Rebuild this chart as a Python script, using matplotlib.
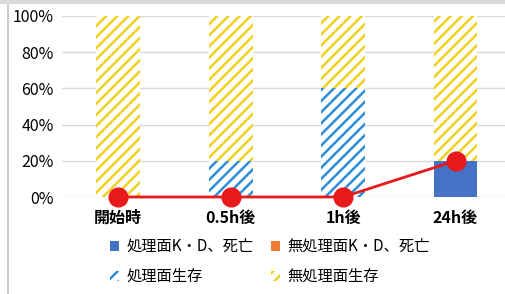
import matplotlib
matplotlib.use("Agg")
import matplotlib.pyplot as plt
from matplotlib.lines import Line2D
import numpy as np

plt.rcParams["font.family"] = ["Noto Sans CJK JP", "DejaVu Sans"]
plt.rcParams["hatch.linewidth"] = 1.8

categories = ["開始時", "0.5h後", "1h後", "24h後"]
treated_kd = [0, 0, 0, 20]
untreated_kd = [0, 0, 0, 0]
treated_alive = [0, 20, 60, 0]
untreated_alive = [100, 80, 40, 80]
kd_rate = [0, 0, 0, 20]

BLUE_SOLID = "#4472C4"
ORANGE = "#ED7D31"
BLUE_HATCH = "#2D8FDB"
YELLOW_HATCH = "#F0D020"
RED = "#E8191B"

fig = plt.figure(figsize=(5.05, 2.94), dpi=100)
ax = fig.add_axes([62 / 505, 1 - 197 / 294, 1 - 62 / 505, (197 - 16) / 294])

x = np.arange(len(categories))
w = 0.39
bottom = np.zeros(len(categories))

b1 = ax.bar(x, treated_kd, w, bottom=bottom, color=BLUE_SOLID, linewidth=0,
            label="処理面K・D、死亡", zorder=2)
bottom += treated_kd
b2 = ax.bar(x, untreated_kd, w, bottom=bottom, color=ORANGE, linewidth=0,
            label="無処理面K・D、死亡", zorder=2)
bottom += untreated_kd
b3 = ax.bar(x, treated_alive, w, bottom=bottom, facecolor="white",
            edgecolor=BLUE_HATCH, hatch="///", linewidth=0,
            label="処理面生存", zorder=2)
bottom += treated_alive
b4 = ax.bar(x, untreated_alive, w, bottom=bottom, facecolor="white",
            edgecolor=YELLOW_HATCH, hatch="///", linewidth=0,
            label="無処理面生存", zorder=2)

ax.plot(x, kd_rate, color=RED, lw=2, marker="o", markersize=13.5,
        clip_on=False, zorder=5)

ax.set_xlim(-0.5, 3.44)
ax.set_ylim(0, 100)
ax.set_yticks(range(0, 101, 20))
ax.set_yticklabels([f"{v}%" for v in range(0, 101, 20)], fontsize=11.5)
ax.set_xticks(x)
ax.set_xticklabels(categories, fontsize=11.5, fontweight="bold")
ax.tick_params(length=0, pad=6)
ax.tick_params(axis="x", pad=9)
ax.grid(True, axis="y", color="#D9D9D9", lw=1, zorder=0)
ax.set_axisbelow(True)
for s in ax.spines.values():
    s.set_visible(False)

fig.legend(handles=[b1, b3, b2, b4], ncol=2, frameon=False,
           loc="upper left", bbox_to_anchor=(104 / 505, 1 - 232 / 294),
           fontsize=11, handlelength=0.6, handleheight=0.6,
           handletextpad=0.5, columnspacing=1.1, labelspacing=0.85,
           borderaxespad=0)

# frame of the scanned picture
fig.add_artist(Line2D([8 / 505, 8 / 505], [0, 1], color="#CFCFCF", lw=1.5))
fig.add_artist(Line2D([0, 1], [1 - 2 / 294, 1 - 2 / 294], color="#DADADA", lw=3))

fig.savefig("out.png", dpi=100)
